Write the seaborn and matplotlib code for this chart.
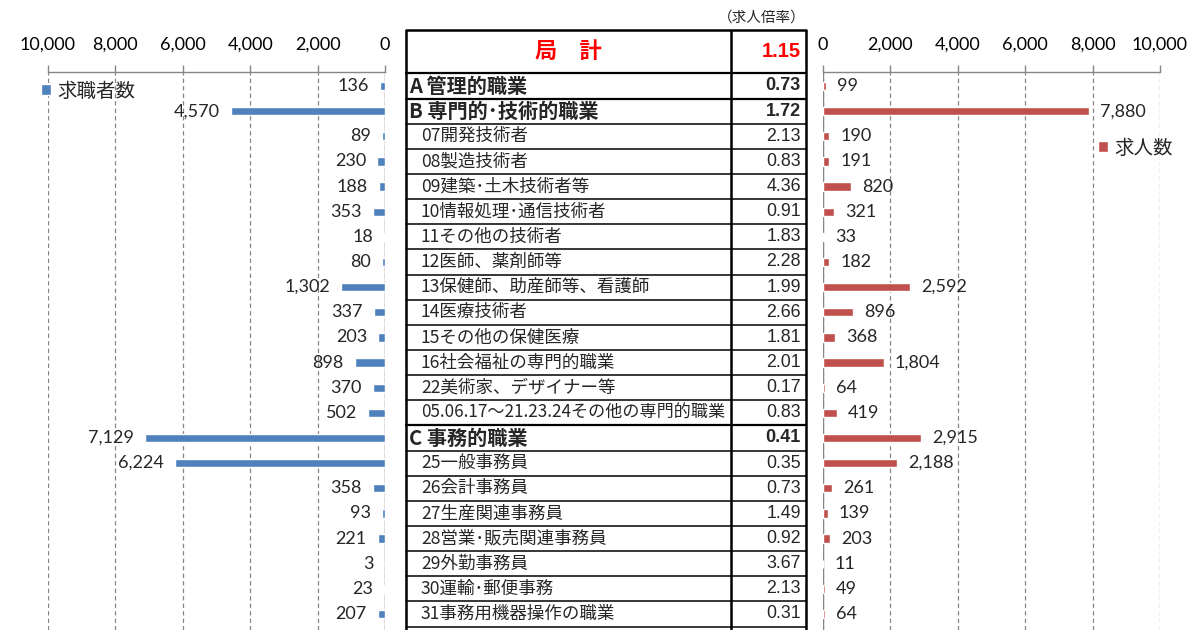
import matplotlib
matplotlib.use("Agg")
import matplotlib.pyplot as plt
import seaborn as sns
import pandas as pd
from matplotlib.patches import Patch

# ---------------- data ----------------
occupations = [
    "A 管理的職業",
    "B 専門的･技術的職業",
    "07開発技術者",
    "08製造技術者",
    "09建築･土木技術者等",
    "10情報処理･通信技術者",
    "11その他の技術者",
    "12医師、薬剤師等",
    "13保健師、助産師等、看護師",
    "14医療技術者",
    "15その他の保健医療",
    "16社会福祉の専門的職業",
    "22美術家、デザイナー等",
    "05.06.17～21.23.24その他の専門的職業",
    "C 事務的職業",
    "25一般事務員",
    "26会計事務員",
    "27生産関連事務員",
    "28営業･販売関連事務員",
    "29外勤事務員",
    "30運輸･郵便事務",
    "31事務用機器操作の職業",
]
levels = [0, 0, 1, 1, 1, 1, 1, 1, 1, 1, 1, 1, 1, 1, 0, 1, 1, 1, 1, 1, 1, 1]
seekers = [136, 4570, 89, 230, 188, 353, 18, 80, 1302, 337, 203, 898, 370, 502,
           7129, 6224, 358, 93, 221, 3, 23, 207]
openings = [99, 7880, 190, 191, 820, 321, 33, 182, 2592, 896, 368, 1804, 64, 419,
            2915, 2188, 261, 139, 203, 11, 49, 64]
ratios = [0.73, 1.72, 2.13, 0.83, 4.36, 0.91, 1.83, 2.28, 1.99, 2.66, 1.81, 2.01,
          0.17, 0.83, 0.41, 0.35, 0.73, 1.49, 0.92, 3.67, 2.13, 0.31]
total_label = "局　計"
total_ratio = 1.15
ratio_caption = "（求人倍率）"
seeker_label = "求職者数"
opening_label = "求人数"
x_ticks = [0, 2000, 4000, 6000, 8000, 10000]

# ---------------- style ----------------
BLUE = "#4F81BD"
RED = "#C0504D"
GRID = "#868686"
JP = ["Noto Sans CJK JP", "DejaVu Sans"]
NUM = ["Lato", "DejaVu Sans"]
ARIAL = ["Liberation Sans", "DejaVu Sans"]

sns.set_style("white")
plt.rcParams["font.family"] = NUM

W, H, DPI = 1199, 630, 100
fig = plt.figure(figsize=(W / DPI, H / DPI), dpi=DPI)


def box(x0, y0, x1, y1):
    return [x0 / W, 1 - y1 / H, (x1 - x0) / W, (y1 - y0) / H]


ROW0, ROWH = 86.0, 25.14


def row_lim(ytop, ybot):
    return ((ybot - ROW0) / ROWH, (ytop - ROW0) / ROWH)


df = pd.DataFrame({"occ": occupations, "seekers": seekers, "openings": openings})

axL = fig.add_axes(box(48, 72, 385, 630))
axR = fig.add_axes(box(823, 72, 1160, 630))
axT = fig.add_axes(box(406, 30, 806, 630))

sns.barplot(data=df, x="seekers", y="occ", orient="h", color=BLUE, saturation=1,
            width=0.33, ax=axL)
sns.barplot(data=df, x="openings", y="occ", orient="h", color=RED, saturation=1,
            width=0.33, ax=axR)

for ax, lim in ((axL, (10000, 0)), (axR, (0, 10000))):
    ax.set_xlim(*lim)
    ax.set_ylim(*row_lim(72, 630))
    ax.set_yticks([])
    ax.set_xlabel("")
    ax.set_ylabel("")
    ax.set_xticks(x_ticks)
    ax.set_xticklabels([f"{t:,}" for t in x_ticks])
    ax.grid(axis="x", color=GRID, linestyle=(0, (3.5, 2.5)), linewidth=0.9)
    ax.grid(axis="y", visible=False)
    ax.set_axisbelow(True)
    for s in ("left", "right", "bottom"):
        ax.spines[s].set_visible(False)
    ax.spines["top"].set_color(GRID)
    ax.spines["top"].set_linewidth(1.0)
    ax.axvline(0, color=GRID, linewidth=1.0, zorder=0.5)
    ax.tick_params(axis="x", top=True, bottom=False, labeltop=True, labelbottom=False,
                   direction="out", length=5, width=1, pad=9, color=GRID,
                   labelsize=13, labelcolor="black")
    ax.set_facecolor("none")

for i, v in enumerate(seekers):
    axL.annotate(f"{v:,}", (v, i), xytext=(-8, 0), textcoords="offset points",
                 ha="right", va="center", fontsize=13)
for i, v in enumerate(openings):
    axR.annotate(f"{v:,}", (v, i), xytext=(8, 0), textcoords="offset points",
                 ha="left", va="center", fontsize=13)

# legends
axL.legend(handles=[Patch(facecolor=BLUE, label=seeker_label)], loc="center left",
           bbox_to_anchor=(41 / W, 1 - 91 / H), bbox_transform=fig.transFigure,
           frameon=False, handlelength=0.5, handleheight=0.5, handletextpad=0.35,
           borderpad=0, borderaxespad=0, prop={"family": JP, "size": 14})
axR.legend(handles=[Patch(facecolor=RED, label=opening_label)], loc="center left",
           bbox_to_anchor=(1098 / W, 1 - 148 / H), bbox_transform=fig.transFigure,
           frameon=False, handlelength=0.5, handleheight=0.5, handletextpad=0.35,
           borderpad=0, borderaxespad=0, prop={"family": JP, "size": 14})

# ---------------- table ----------------
y_bot, y_top = row_lim(30, 630)
axT.set_xlim(0, 400)
axT.set_ylim(y_bot, y_top)
axT.axis("off")
n = len(occupations)
for x in (0, 325, 400):
    axT.plot([x, x], [y_top, n + 1], color="black", lw=1.8, clip_on=False,
             solid_capstyle="butt")
axT.plot([0, 400], [y_top, y_top], color="black", lw=1.8, clip_on=False)
for i in range(n + 1):
    lw = 1.6 if i in (0, 1, 14) else 1.1
    axT.plot([0, 400], [i - 0.5, i - 0.5], color="black", lw=lw, clip_on=False)

hy = (y_top - 0.5) / 2
axT.text(162, hy, total_label, color="#FF0000", fontsize=16, fontweight="bold",
         family=JP, ha="center", va="center")
axT.text(395, hy, f"{total_ratio:.2f}", color="#FF0000", fontsize=14.5,
         fontweight="bold", family=ARIAL, ha="right", va="center")

for i, (name, lvl, r) in enumerate(zip(occupations, levels, ratios)):
    bold = lvl == 0
    if bold:
        size = 14.5
    elif len(name) > 20:
        size = 12.3
    else:
        size = 12.6
    axT.text(3 if bold else 15, i, name, fontsize=size, family=JP,
             fontweight="bold" if bold else "normal", ha="left", va="center")
    axT.text(395, i, f"{r:.2f}", fontsize=13 if bold else 12.8, family=ARIAL,
             fontweight="bold" if bold else "normal", ha="right", va="center")

fig.text(806 / W, 1 - 18 / H, ratio_caption, family=JP, fontsize=10.5,
         ha="right", va="center")

fig.savefig("out.png", dpi=DPI)
